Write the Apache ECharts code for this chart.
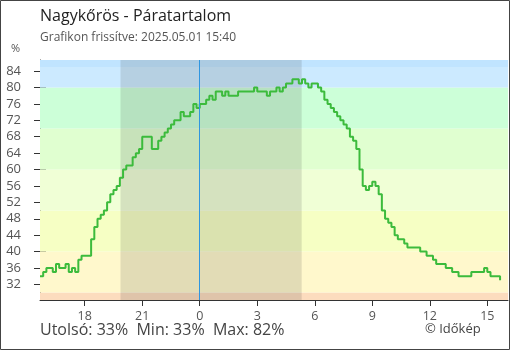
<!DOCTYPE html>
<html><head><meta charset="utf-8">
<script src="https://cdn.jsdelivr.net/npm/echarts@6/dist/echarts.min.js"></script>
<style>html,body{margin:0;padding:0;background:#fff}#c{width:510px;height:350px}</style>
</head><body><div id="c"></div><script>
// Humidity (%) every 10 minutes, 2025.04.30 15:40 -> 2025.05.01 15:40
const startTime = "15:40";
const stepMinutes = 10;
const humidity = [
  34,35,36,36,35,37,36,36,37,35,36,35,38,39,39,39,43,46,48,49,
  50,52,54,55,56,58,60,61,61,63,64,65,68,68,68,65,65,67,68,69,
  70,71,72,72,74,73,73,74,76,75,
  76,76,77,78,77,79,79,78,79,78,78,78,79,79,79,79,79,80,79,79,
  79,78,79,79,80,79,80,81,81,82,82,81,82,81,80,81,81,80,79,77,
  76,75,74,73,72,71,70,68,67,65,60,56,55,56,57,56,54,50,48,47,
  46,44,43,43,42,41,41,41,41,40,40,39,39,38,37,37,37,36,36,35,
  35,34,34,34,34,35,35,35,35,36,35,34,34,34,33
];
const xTickHours = [18, 21, 24, 27, 30, 33, 36, 39];
const yTicks = [32, 36, 40, 44, 48, 52, 56, 60, 64, 68, 72, 76, 80, 84];
const bandEdges = [28, 30, 40, 50, 60, 70, 80, 85, 90];
const bandColors = ['#fcdcbe', '#fff8cc', '#f6ffc4', '#f0ffd6', '#e0ffd0', '#ccffd8', '#cceaff', '#c0e4ff'];
const nightFrom = 19 + 52 / 60;   // sunset 19:52
const nightTo = 24 + 5 + 19 / 60; // sunrise 05:19
const midnight = 24;
const titleText = 'Nagykőrös - Páratartalom';
const subtitleText = 'Grafikon frissítve: 2025.05.01 15:40';

const [sh, sm] = startTime.split(':').map(Number);
const startH = sh + sm / 60;
const lineData = humidity.map((v, i) => [startH + i * stepMinutes / 60, v]);
const xMin = startH, xMax = 40.08, yMin = 28.2, yMax = 86.7;

const last = humidity[humidity.length - 1];
const mn = Math.min(...humidity), mx = Math.max(...humidity);

const bandAreas = bandColors.map((c, i) => [
  { yAxis: Math.max(bandEdges[i], yMin), itemStyle: { color: c } },
  { yAxis: Math.min(bandEdges[i + 1], yMax) }
]);

const FONT = 'Open Sans';
const chart = echarts.init(document.getElementById('c'), null, { renderer: 'canvas' });
const xBase = { type: 'value', min: xMin, max: xMax, splitLine: { show: false } };
const yBase = { type: 'value', min: yMin, max: yMax, splitLine: { show: false } };
chart.setOption({
  animation: false,
  textStyle: { fontFamily: FONT },
  grid: { left: 40, right: 2, top: 60, bottom: 50, containLabel: false },
  xAxis: [
    Object.assign({}, xBase, {
      axisLine: { show: true, onZero: false, lineStyle: { color: '#333', width: 1 } },
      axisTick: { show: true, customValues: xTickHours, length: 6, lineStyle: { color: '#333' } },
      axisLabel: { customValues: xTickHours, formatter: v => String(Math.round(v) % 24), color: '#555', fontSize: 12.5, margin: 10, fontFamily: FONT }
    }),
    Object.assign({}, xBase, {
      position: 'bottom', axisLine: { show: false },
      axisTick: { show: true, inside: true, customValues: xTickHours, length: 7, lineStyle: { color: '#333' } },
      axisLabel: { show: false }
    })
  ],
  yAxis: [
    Object.assign({}, yBase, {
      axisLine: { show: true, onZero: false, lineStyle: { color: '#333', width: 1 } },
      axisTick: { show: true, customValues: yTicks, length: 6, lineStyle: { color: '#333' } },
      axisLabel: { customValues: yTicks, color: '#555', fontSize: 13, margin: 19, fontFamily: FONT }
    }),
    Object.assign({}, yBase, {
      position: 'left', axisLine: { show: false },
      axisTick: { show: true, inside: true, customValues: yTicks, length: 6, lineStyle: { color: '#333' } },
      axisLabel: { show: false }
    })
  ],
  series: [
    { type: 'line', data: [], silent: true, z: 1,
      markArea: { silent: true, data: bandAreas } },
    { type: 'line', data: [], silent: true, z: 2,
      markArea: { silent: true, itemStyle: { color: 'rgba(60,60,60,0.15)' },
        data: [[{ xAxis: nightFrom }, { xAxis: nightTo }]] },
      markLine: { silent: true, symbol: ['none', 'none'], label: { show: false },
        lineStyle: { color: '#2f96e0', width: 1, type: 'solid', opacity: 1 },
        emphasis: { disabled: true },
        data: [{ xAxis: midnight, lineStyle: { color: '#2f96e0' } }] } },
    { type: 'line', data: lineData, z: 4, step: 'end', showSymbol: false, symbol: 'none',
      lineStyle: { color: '#3cbb3c', width: 2 } }
  ],
  graphic: [
    { type: 'rect', shape: { x: 0.5, y: 0.5, width: 509, height: 349 }, style: { fill: 'none', stroke: '#444', lineWidth: 1 }, z: 100 },
    { type: 'text', left: 40, top: 8, style: { text: titleText, fontSize: 16, fill: '#222', fontFamily: FONT } },
    { type: 'text', left: 40, top: 32, style: { text: subtitleText, fontSize: 12, fill: '#555', fontFamily: FONT } },
    { type: 'text', left: 11, top: 43, style: { text: '%', fontSize: 11, fill: '#555', fontFamily: FONT } },
    { type: 'text', left: 40, top: 322, style: { text: 'Utolsó: ' + last + '%  Min: ' + mn + '%  Max: ' + mx + '%', fontSize: 16, fill: '#444', fontFamily: FONT } },
    { type: 'text', left: 425, top: 323, style: { text: '© Időkép', fontSize: 13, fill: '#444', fontFamily: FONT } }
  ]
});
</script></body></html>
